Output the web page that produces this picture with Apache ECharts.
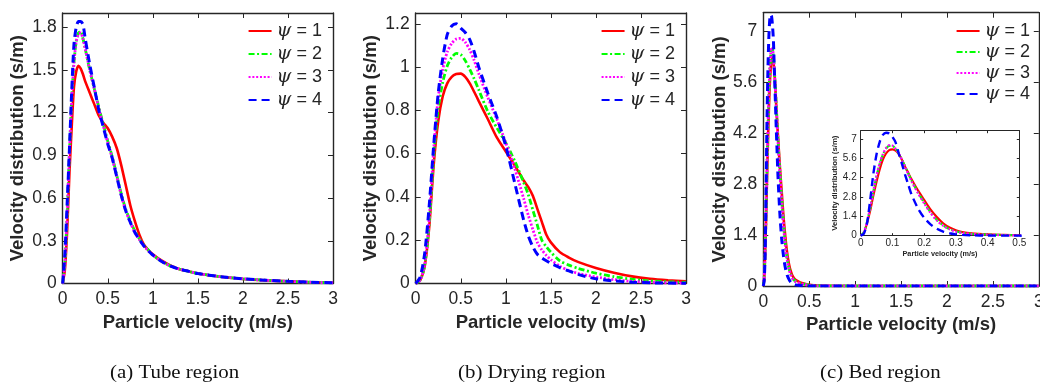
<!DOCTYPE html>
<html>
<head>
<meta charset="utf-8">
<script src="https://cdn.jsdelivr.net/npm/echarts@6/dist/echarts.min.js"></script>
<style>
html,body{margin:0;padding:0;background:#fff;}
#chart{width:1040px;height:382px;}
</style>
</head>
<body>
<div id="chart"></div>
<script>
// ---------------- DATA ----------------
const psiLabels = ['1', '2', '3', '4'];
const captions = ['(a) Tube region', '(b) Drying region', '(c) Bed region'];
const xTitle = 'Particle velocity (m/s)';
const yTitle = 'Velocity distribution (s/m)';

// (a) Tube region
const tubeX = [0, 0.025, 0.05, 0.075, 0.1, 0.125, 0.15, 0.175, 0.2, 0.225, 0.25, 0.3, 0.35, 0.4, 0.45, 0.5, 0.55, 0.6, 0.65, 0.7, 0.75, 0.8, 0.85, 0.9, 0.95, 1.0, 1.1, 1.2, 1.3, 1.4, 1.5, 1.75, 2.0, 2.25, 2.5, 2.75, 3.0];
const tube1 = [0, 0.1, 0.38, 0.78, 1.1, 1.38, 1.49, 1.53, 1.51, 1.47, 1.42, 1.34, 1.26, 1.18, 1.13, 1.09, 1.03, 0.95, 0.83, 0.69, 0.55, 0.44, 0.345, 0.275, 0.235, 0.205, 0.16, 0.125, 0.1, 0.085, 0.07, 0.047, 0.032, 0.022, 0.015, 0.009, 0.005];
const tube2 = [0, 0.15, 0.5, 0.93, 1.3, 1.55, 1.7, 1.76, 1.77, 1.72, 1.65, 1.5, 1.37, 1.24, 1.12, 1.0, 0.89, 0.76, 0.63, 0.52, 0.44, 0.37, 0.315, 0.27, 0.235, 0.2, 0.155, 0.122, 0.1, 0.085, 0.07, 0.048, 0.033, 0.023, 0.015, 0.009, 0.005];
const tube3 = [0, 0.15, 0.5, 0.92, 1.29, 1.55, 1.7, 1.75, 1.76, 1.72, 1.65, 1.5, 1.37, 1.23, 1.11, 0.99, 0.88, 0.75, 0.62, 0.51, 0.43, 0.36, 0.31, 0.265, 0.23, 0.2, 0.155, 0.122, 0.1, 0.085, 0.07, 0.048, 0.033, 0.023, 0.015, 0.009, 0.005];
const tube4 = [0, 0.22, 0.57, 0.95, 1.35, 1.68, 1.8, 1.84, 1.84, 1.82, 1.72, 1.54, 1.38, 1.22, 1.1, 0.98, 0.88, 0.75, 0.62, 0.51, 0.43, 0.36, 0.31, 0.265, 0.23, 0.2, 0.155, 0.122, 0.1, 0.085, 0.07, 0.048, 0.033, 0.023, 0.015, 0.009, 0.005];

// (b) Drying region
const dryX = [0, 0.05, 0.1, 0.15, 0.2, 0.25, 0.3, 0.35, 0.4, 0.45, 0.5, 0.55, 0.6, 0.65, 0.7, 0.8, 0.9, 1.0, 1.1, 1.2, 1.25, 1.3, 1.35, 1.4, 1.45, 1.5, 1.6, 1.7, 1.8, 2.0, 2.2, 2.4, 2.6, 2.8, 3.0];
const dry1 = [0, 0.015, 0.08, 0.26, 0.55, 0.75, 0.865, 0.925, 0.955, 0.968, 0.97, 0.955, 0.925, 0.885, 0.843, 0.76, 0.675, 0.61, 0.545, 0.475, 0.445, 0.405, 0.345, 0.285, 0.225, 0.19, 0.145, 0.12, 0.1, 0.072, 0.05, 0.033, 0.022, 0.015, 0.01];
const dry2 = [0, 0.015, 0.085, 0.28, 0.59, 0.81, 0.93, 1.005, 1.045, 1.063, 1.058, 1.03, 0.99, 0.945, 0.895, 0.795, 0.72, 0.65, 0.565, 0.465, 0.41, 0.34, 0.27, 0.2, 0.17, 0.145, 0.105, 0.085, 0.07, 0.048, 0.032, 0.02, 0.012, 0.008, 0.005];
const dry3 = [0, 0.015, 0.09, 0.3, 0.62, 0.86, 0.99, 1.07, 1.11, 1.13, 1.133, 1.115, 1.08, 1.03, 0.97, 0.86, 0.76, 0.65, 0.53, 0.39, 0.315, 0.25, 0.19, 0.155, 0.13, 0.11, 0.08, 0.06, 0.047, 0.03, 0.018, 0.01, 0.006, 0.003, 0.002];
const dry4 = [0, 0.03, 0.14, 0.36, 0.64, 0.88, 1.04, 1.15, 1.19, 1.2, 1.18, 1.16, 1.127, 1.07, 1.0, 0.88, 0.77, 0.635, 0.463, 0.29, 0.22, 0.17, 0.135, 0.118, 0.105, 0.093, 0.073, 0.058, 0.042, 0.022, 0.012, 0.006, 0.003, 0.002, 0.001];

// (c) Bed region (also shown in the inset)
const bedX = [0, 0.01, 0.02, 0.03, 0.04, 0.05, 0.06, 0.07, 0.08, 0.09, 0.1, 0.11, 0.12, 0.13, 0.14, 0.15, 0.16, 0.18, 0.2, 0.22, 0.24, 0.26, 0.28, 0.3, 0.32, 0.35, 0.4, 0.45, 0.5, 0.6, 1.0, 1.5, 2.0, 2.5, 3.0];
const bed1 = [0, 0.2, 0.9, 1.8, 2.9, 3.9, 4.8, 5.5, 5.95, 6.2, 6.25, 6.15, 5.9, 5.5, 5.0, 4.55, 4.1, 3.3, 2.6, 1.9, 1.35, 0.9, 0.6, 0.4, 0.27, 0.17, 0.1, 0.06, 0.03, 0.01, 0, 0, 0, 0, 0];
const bed2 = [0, 0.25, 1.0, 2.0, 3.2, 4.3, 5.2, 5.85, 6.3, 6.5, 6.5, 6.3, 5.95, 5.5, 5.0, 4.5, 4.0, 3.15, 2.4, 1.7, 1.15, 0.75, 0.48, 0.32, 0.21, 0.13, 0.08, 0.05, 0.025, 0.008, 0, 0, 0, 0, 0];
const bed3 = [0, 0.25, 1.0, 2.05, 3.25, 4.35, 5.25, 5.9, 6.35, 6.55, 6.52, 6.3, 5.95, 5.48, 4.95, 4.45, 3.95, 3.1, 2.35, 1.65, 1.1, 0.72, 0.46, 0.3, 0.2, 0.12, 0.07, 0.04, 0.02, 0.006, 0, 0, 0, 0, 0];
const bed4 = [0, 0.15, 0.9, 2.6, 4.5, 5.9, 6.8, 7.3, 7.45, 7.4, 7.15, 6.75, 5.95, 5.2, 4.4, 3.7, 3.0, 2.0, 1.3, 0.82, 0.5, 0.3, 0.18, 0.1, 0.06, 0.03, 0.012, 0.005, 0.002, 0, 0, 0, 0, 0, 0];

// axis ranges / ticks
const xMain = {min: 0, max: 3, interval: 0.5};
const yTube = {min: 0, max: 1.9, interval: 0.3};
const yDry = {min: 0, max: 1.25, interval: 0.2};
const yBed = {min: 0, max: 7.5, interval: 1.4};
const xInset = {min: 0, max: 0.5, interval: 0.1};
const yInset = {min: 0, max: 7.6, interval: 1.4};

// ---------------- STYLE ----------------
const TXT = '#262626';
const FONT = 'Liberation Sans, Arial, Helvetica, sans-serif';
const lineStyles = [
  {color: '#ff0000', width: 2.6, type: 'solid'},
  {color: '#00ff00', width: 2.8, type: [6, 2.5, 2, 2.5]},
  {color: '#ff00ff', width: 2.8, type: [2, 1.8]},
  {color: '#0000ff', width: 3, type: [8, 5]}
];

const grids = [
  {left: 62.7, top: 13, width: 270.3, height: 270.5, outerBoundsMode: 'none'},
  {left: 415.7, top: 13, width: 270.3, height: 270.5, outerBoundsMode: 'none'},
  {left: 763.3, top: 12.7, width: 275.5, height: 273.3, outerBoundsMode: 'none'},
  {left: 860.7, top: 130.7, width: 158.6, height: 105, show: true, backgroundColor: '#fff', borderWidth: 0, z: 5, outerBoundsMode: 'none'}
];

const xAxes = [], yAxes = [];
function addAxes(gi, xr, yr, o) {
  const axLine = {show: true, onZero: false, lineStyle: {color: TXT, width: o.lw}};
  const tick = {show: true, inside: true, length: o.tl, lineStyle: {color: TXT, width: 1}};
  const base = {gridIndex: gi, type: 'value', splitLine: {show: false}, axisLine: axLine, axisTick: tick, z: o.z};
  xAxes.push(Object.assign({}, base, xr, {
    position: 'bottom',
    name: o.xName, nameLocation: 'middle', nameGap: o.xGap,
    nameTextStyle: {fontFamily: FONT, fontWeight: 'bold', fontSize: o.xnfs, color: TXT},
    axisLabel: {show: true, margin: o.xm, fontFamily: FONT, fontSize: o.fs, color: TXT}
  }));
  xAxes.push(Object.assign({}, base, xr, {position: 'top', axisLabel: {show: false}}));
  yAxes.push(Object.assign({}, base, yr, {
    position: 'left',
    name: o.yName, nameLocation: 'middle', nameGap: o.yGap, nameRotate: 90,
    nameTextStyle: {fontFamily: FONT, fontWeight: 'bold', fontSize: o.ynfs, color: TXT},
    axisLabel: {show: true, margin: o.ym, fontFamily: FONT, fontSize: o.fs, color: TXT, showMaxLabel: false}
  }));
  yAxes.push(Object.assign({}, base, yr, {position: 'right', axisLabel: {show: false}}));
}
const mainOpt = {lw: 1.4, tl: 5, fs: 17.5, xnfs: 18.5, ynfs: 18.5, xm: 7, ym: 6, xGap: 29, xName: xTitle, yName: yTitle, z: 2};
addAxes(0, xMain, yTube, Object.assign({}, mainOpt, {yGap: 35}));
addAxes(1, xMain, yDry, Object.assign({}, mainOpt, {yGap: 35}));
addAxes(2, xMain, yBed, Object.assign({}, mainOpt, {yGap: 31}));
addAxes(3, xInset, yInset, {lw: 1, tl: 2.5, fs: 10, xnfs: 7.3, ynfs: 7.8, xm: 3, ym: 4, xGap: 15, yGap: 20, xName: xTitle, yName: yTitle, z: 6});

const panels = [
  {x: tubeX, ys: [tube1, tube2, tube3, tube4], pre: 'a'},
  {x: dryX, ys: [dry1, dry2, dry3, dry4], pre: 'b'},
  {x: bedX, ys: [bed1, bed2, bed3, bed4], pre: 'c'},
  {x: bedX, ys: [bed1, bed2, bed3, bed4], pre: 'i'}
];
const series = [];
panels.forEach((p, gi) => {
  p.ys.forEach((ys, k) => {
    series.push({
      name: p.pre + psiLabels[k],
      type: 'line',
      xAxisIndex: gi * 2, yAxisIndex: gi * 2,
      data: p.x.map((x, i) => [x, ys[i]]),
      symbol: 'none', showSymbol: false,
      smooth: 0.25,
      lineStyle: Object.assign({}, lineStyles[k], gi === 3 ? {width: lineStyles[k].width * 0.8} : {}),
      itemStyle: {color: lineStyles[k].color},
      z: gi === 3 ? 7 : 3 + (k === 0 ? 0 : k),
      animation: false
    });
  });
});

function makeLegend(pre, right, gap) {
  return {
    orient: 'vertical', right: right, top: 21,
    itemWidth: 23, itemHeight: 14, itemGap: gap,
    data: psiLabels.map(l => pre + l),
    formatter: n => '{p|ψ} = ' + n.slice(1),
    itemStyle: {opacity: 0, borderWidth: 0},
    textStyle: {fontFamily: FONT, fontSize: 18, color: TXT, lineHeight: 20,
      rich: {p: {fontFamily: 'DejaVu Serif', fontStyle: 'italic', fontSize: 19, color: TXT}}},
    selectedMode: false, padding: 0
  };
}
const legends = [makeLegend('a', 718, 3), makeLegend('b', 365, 3), makeLegend('c', 10, 1)];

const capX = [110, 458, 820];
const graphic = captions.map((c, i) => ({
  type: 'text', x: capX[i], y: 373, scaleX: 1.13,
  style: {text: c, fontFamily: 'Liberation Serif', fontSize: 18.5, fill: '#111', verticalAlign: 'middle', align: 'left'}
}));

const chart = echarts.init(document.getElementById('chart'), null, {renderer: 'canvas'});
chart.setOption({
  animation: false,
  backgroundColor: '#fff',
  grid: grids,
  xAxis: xAxes,
  yAxis: yAxes,
  legend: legends,
  series: series,
  graphic: graphic
});
</script>
</body>
</html>
